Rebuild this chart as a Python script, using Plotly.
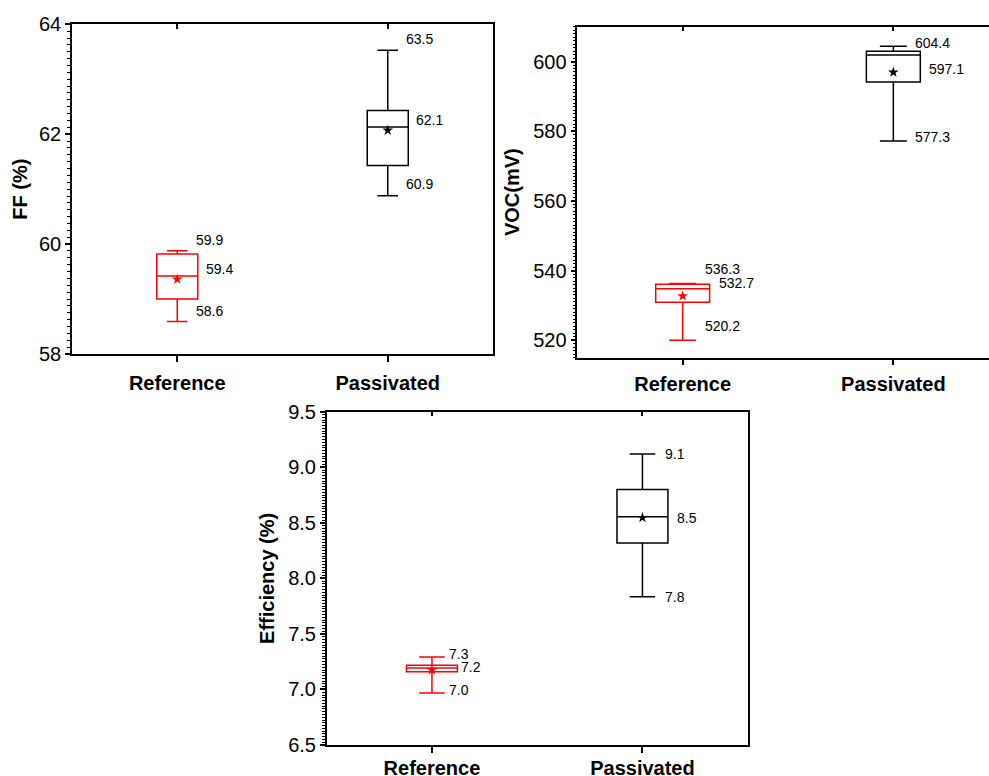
import plotly.graph_objects as go

# ---------------- data ----------------
categories = ["Reference", "Passivated"]
cat_pos = [0, 1]
box_colors = ["#FF0000", "#000000"]

ff_min = [58.59, 60.88]
ff_q1 = [59.00, 61.43]
ff_median = [59.42, 62.13]
ff_q3 = [59.82, 62.43]
ff_max = [59.88, 63.53]
ff_mean = [59.36, 62.07]
ff_label_text = [["59.9", "59.4", "58.6"], ["63.5", "62.1", "60.9"]]
ff_label_vals = [[59.88, 59.42, 58.59], [63.53, 62.13, 60.88]]

voc_min = [520.0, 577.2]
voc_q1 = [530.9, 594.1]
voc_median = [534.8, 601.9]
voc_q3 = [536.06, 602.95]
voc_max = [536.3, 604.4]
voc_mean = [532.7, 596.9]
voc_label_text = [["536.3", "532.7", "520.2"], ["604.4", "597.1", "577.3"]]
voc_label_vals = [[536.3, 532.7, 520.0], [604.4, 596.9, 577.2]]

eff_min = [6.968, 7.835]
eff_q1 = [7.160, 8.318]
eff_median = [7.193, 8.555]
eff_q3 = [7.217, 8.800]
eff_max = [7.292, 9.120]
eff_mean = [7.175, 8.546]
eff_label_text = [["7.3", "7.2", "7.0"], ["9.1", "8.5", "7.8"]]
eff_label_vals = [[7.292, 7.193, 6.968], [9.120, 8.546, 7.835]]

# ---------------- styling ----------------
FONT = "Arial, Liberation Sans, sans-serif"
W, H = 989, 776
LW = 1.5

panels = [
    dict(x="x", y="y", xt="x4",
         xdom=(72, 493), ydom=(24.3, 354), xrange=[-0.5, 1.5], yrange=[58, 64], dtick=2, minor=0.125,
         title="FF (%)", bw=0.195, mins=ff_min, q1=ff_q1, med=ff_median, q3=ff_q3, maxs=ff_max, mean=ff_mean,
         ltext=ff_label_text, lvals=ff_label_vals,
         lshift=[[(17, 11), (27, 7), (17, 11)], [(16, 11), (26, 7), (16, 12)]], mirror=True, tickfmt=None,
         xstand=4, ystand=6),
    dict(x="x2", y="y2", xt="x5",
         xdom=(577.3, 989), ydom=(26.7, 357.7), xrange=[-0.5, 1.454], yrange=[515, 610], dtick=20, minor=1,
         title="VOC(mV)", bw=0.256, mins=voc_min, q1=voc_q1, med=voc_median, q3=voc_q3, maxs=voc_max, mean=voc_mean,
         ltext=voc_label_text, lvals=voc_label_vals,
         lshift=[[(20, 14), (34, 13), (20, 14)], [(20, 3.5), (34, 3.5), (20, 4)]], mirror=False, tickfmt=None,
         xstand=2, ystand=8),
    dict(x="x3", y="y3", xt="x6",
         xdom=(326.7, 747.7), ydom=(411.7, 745), xrange=[-0.5, 1.5], yrange=[6.5, 9.5], dtick=0.5, minor=0.025,
         title="Efficiency (%)", bw=0.242, mins=eff_min, q1=eff_q1, med=eff_median, q3=eff_q3, maxs=eff_max, mean=eff_mean,
         ltext=eff_label_text, lvals=eff_label_vals,
         lshift=[[(15, 3), (27, 1), (15, 3)], [(21, 0), (33, 0), (21, 0)]], mirror=True, tickfmt=".1f",
         xstand=-2, ystand=8),
]

fig = go.Figure()
annotations = []
layout = dict(
    width=W, height=H, margin=dict(l=0, r=0, t=0, b=0, autoexpand=False),
    paper_bgcolor="white", plot_bgcolor="white", showlegend=False,
    font=dict(family=FONT, color="black"),
)

for p in panels:
    xs, ys = p["x"], p["y"]
    for i in range(2):
        fig.add_trace(go.Box(
            x=[cat_pos[i]], q1=[p["q1"][i]], median=[p["med"][i]], q3=[p["q3"][i]],
            lowerfence=[p["mins"][i]], upperfence=[p["maxs"][i]],
            width=p["bw"], whiskerwidth=0.5, boxpoints=False,
            line=dict(color=box_colors[i], width=LW), fillcolor="rgba(0,0,0,0)",
            xaxis=xs, yaxis=ys, hoverinfo="skip",
        ))
        fig.add_trace(go.Scatter(
            x=[cat_pos[i]], y=[p["mean"][i]], mode="markers",
            marker=dict(symbol="star", size=8, color=box_colors[i]),
            xaxis=xs, yaxis=ys, hoverinfo="skip",
        ))
        for t, v, (dx, dy) in zip(p["ltext"][i], p["lvals"][i], p["lshift"][i]):
            annotations.append(dict(
                x=cat_pos[i], y=v, xref=xs, yref=ys, text=t, showarrow=False,
                xanchor="left", yanchor="middle", xshift=dx, yshift=dy,
                font=dict(size=14, family=FONT, color="black"),
            ))
    fig.add_trace(go.Scatter(x=[None], y=[None], xaxis=p["xt"], yaxis=ys, hoverinfo="skip", showlegend=False))

    xd = [p["xdom"][0] / W, p["xdom"][1] / W]
    yd = [1 - p["ydom"][1] / H, 1 - p["ydom"][0] / H]
    xkey = "xaxis" + xs[1:]
    ykey = "yaxis" + ys[1:]
    xtkey = "xaxis" + p["xt"][1:]
    layout[xkey] = dict(
        domain=xd, anchor=ys, range=p["xrange"], tickmode="array", tickvals=cat_pos, ticktext=categories,
        ticks="outside", ticklen=6, tickwidth=LW, tickcolor="black", automargin=False,
        ticklabelstandoff=p["xstand"],
        showline=True, linecolor="black", linewidth=LW, showgrid=False, zeroline=False,
        tickfont=dict(size=20, family=FONT, color="black", weight="bold"),
    )
    layout[xtkey] = dict(
        overlaying=xs, anchor=ys, side="top", domain=xd, range=p["xrange"], tickmode="array", tickvals=cat_pos,
        ticks="inside", ticklen=5, tickwidth=LW, tickcolor="black", showticklabels=False, automargin=False,
        showline=True, linecolor="black", linewidth=LW, showgrid=False, zeroline=False,
    )
    ydict = dict(
        domain=yd, anchor=xs, range=p["yrange"], dtick=p["dtick"], tick0=0, automargin=False,
        ticks="outside", ticklen=5, tickwidth=LW, tickcolor="black",
        minor=dict(dtick=p["minor"], tick0=0, ticks="outside", ticklen=3, tickwidth=1, tickcolor="black", showgrid=False),
        showline=True, linecolor="black", linewidth=LW, mirror=p["mirror"], showgrid=False, zeroline=False,
        tickfont=dict(size=20, family=FONT, color="black"),
        title=dict(text=p["title"], font=dict(size=20, family=FONT, color="black", weight="bold"), standoff=p["ystand"]),
    )
    if p["tickfmt"]:
        ydict["tickformat"] = p["tickfmt"]
    layout[ykey] = ydict

layout["annotations"] = annotations
fig.update_layout(**layout)
fig.write_html("out.html")
